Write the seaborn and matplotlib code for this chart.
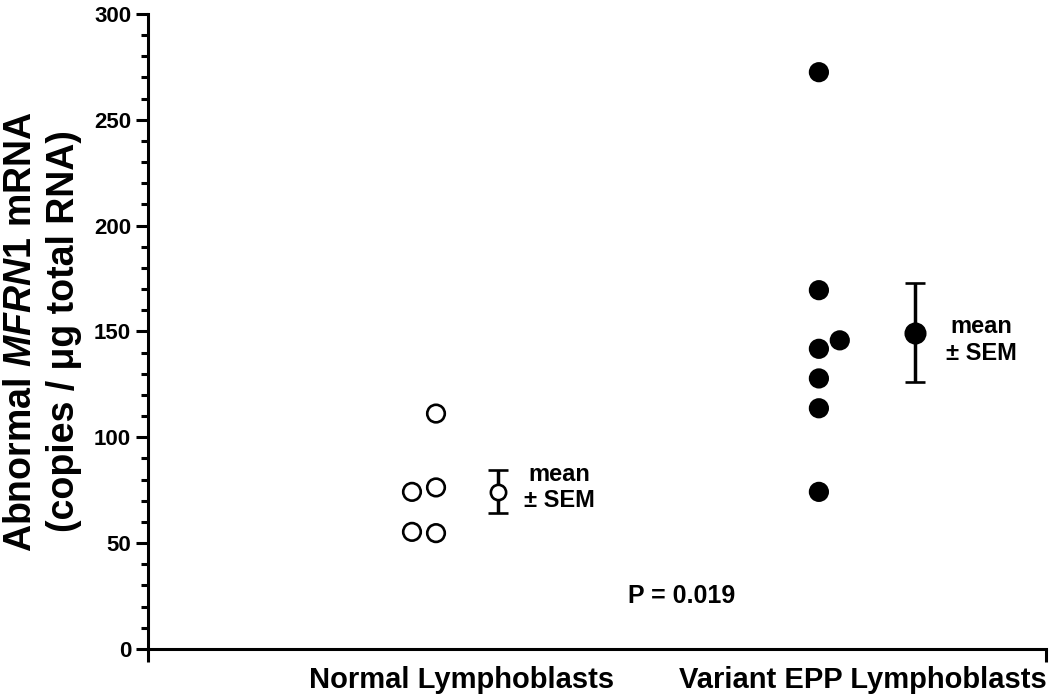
import numpy as np
import pandas as pd
import seaborn as sns
import matplotlib.pyplot as plt
from matplotlib.ticker import MultipleLocator

# values
groups = ["Normal Lymphoblasts", "Variant EPP Lymphoblasts"]
normal_values = [111.2, 76.3, 74.2, 54.7, 55.3]
variant_values = [272.5, 169.5, 141.8, 145.8, 127.8, 113.7, 74.2]
p_text = "P = 0.019"
y_ticks = [0, 50, 100, 150, 200, 250, 300]


def spread(values, step, tol=9):
    # put points that overlap one in the main column into a side column
    main = []
    shifts = []
    for v in values:
        if any(abs(v - m) < tol for m in main):
            shifts.append(step)
        else:
            main.append(v)
            shifts.append(0.0)
    return shifts


sns.set_style("ticks")
plt.rcParams["font.family"] = ["Liberation Sans", "DejaVu Sans"]
plt.rcParams["font.weight"] = "bold"
plt.rcParams["mathtext.fontset"] = "custom"
plt.rcParams["mathtext.rm"] = "Liberation Sans:bold"
plt.rcParams["mathtext.bf"] = "Liberation Sans:bold"
plt.rcParams["mathtext.it"] = "Liberation Sans:italic:bold"
for key in ["text.color", "axes.edgecolor", "axes.labelcolor",
            "xtick.color", "ytick.color"]:
    plt.rcParams[key] = "black"

# layout of each group: main column, side step, mean column, text offset
column = [-0.066, 0.906]
side = [-0.061, 0.053]
mean_x = [0.091, 1.150]
face = ["white", "black"]
text_off = [(44, 3), (48, -5)]

rows = []
for i, vals in enumerate([normal_values, variant_values]):
    for v, s in zip(vals, spread(vals, side[i])):
        rows.append({"group": groups[i], "x": column[i] + s, "value": v})
df = pd.DataFrame(rows)

fig = plt.figure(figsize=(10.5, 7), dpi=100)
ax = fig.add_axes([0.141, 0.073, 0.855, 0.907])

sns.scatterplot(data=df, x="x", y="value", hue="group",
                palette=dict(zip(groups, face)), edgecolor="black",
                linewidth=1.9, s=160, legend=False, ax=ax, zorder=3)

for i, vals in enumerate([normal_values, variant_values]):
    arr = np.array(vals)
    m = arr.mean()
    sem = arr.std(ddof=1) / np.sqrt(len(arr))
    ax.errorbar(mean_x[i], m, yerr=sem, fmt="o", mfc=face[i], mec="black",
                ms=11 if i == 0 else 14, mew=1.9, ecolor="black",
                elinewidth=2.5, capsize=7, capthick=2.5, zorder=3)
    ax.annotate("mean\n± SEM", xy=(mean_x[i], m), xytext=text_off[i],
                textcoords="offset points", ha="center", va="center",
                fontsize=17, fontweight="bold", linespacing=1.2)

ax.text(0.558, 25, p_text, ha="center", va="center", fontsize=18,
        fontweight="bold")

xmin, xmax = -0.797, 1.482
ax.set_xlim(xmin, xmax)
ax.set_ylim(0, 300)

ax.set_xticks([0, 1.018])
ax.set_xticklabels(groups)
ax.set_xticks([xmin, xmax], minor=True)
ax.set_yticks(y_ticks)
ax.yaxis.set_minor_locator(MultipleLocator(10))

ax.tick_params(axis="x", which="major", length=0, labelsize=21, pad=12)
ax.tick_params(axis="x", which="minor", length=9.5, width=2.2)
ax.tick_params(axis="y", which="major", length=8.6, width=2.2,
               labelsize=16, pad=3.5)
ax.tick_params(axis="y", which="minor", length=5, width=2.2)
for lab in ax.get_xticklabels() + ax.get_yticklabels():
    lab.set_fontweight("bold")

sns.despine(ax=ax)
for side_name in ["left", "bottom"]:
    ax.spines[side_name].set_linewidth(2.2)

ax.set_xlabel("")
ax.set_ylabel("Abnormal $\\mathit{MFRN1}$ mRNA\n(copies / μg total RNA)",
              fontsize=27, fontweight="bold", linespacing=1.25)
ax.yaxis.set_label_coords(-0.074, 0.5)

fig.savefig("out.png", dpi=100)
plt.close("all")
